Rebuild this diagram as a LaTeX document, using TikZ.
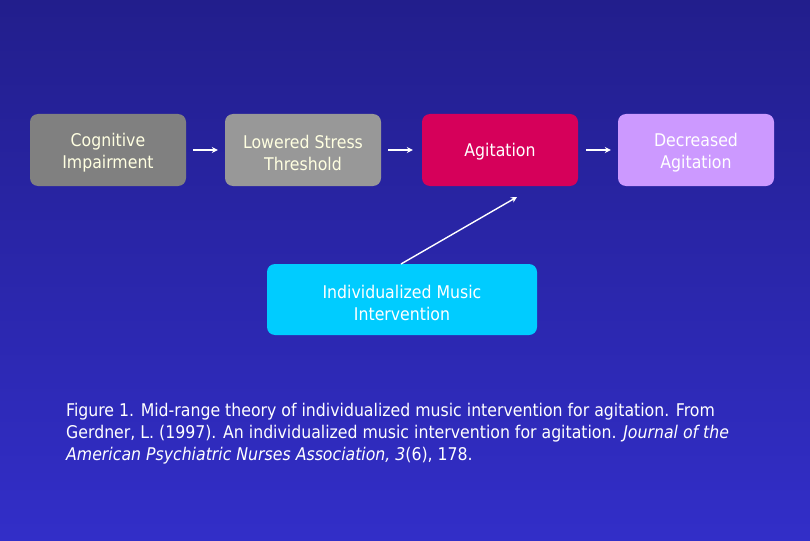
\documentclass[tikz,border=0pt]{standalone}
\usepackage{fontspec}
\setmainfont{DejaVu Sans Condensed}
\usetikzlibrary{arrows.meta}
\definecolor{bgtop}{RGB}{34,30,140}
\definecolor{bgbot}{RGB}{50,46,200}
\definecolor{gray1}{RGB}{128,128,128}
\definecolor{gray2}{RGB}{152,152,152}
\definecolor{agit}{RGB}{214,0,90}
\definecolor{lilac}{RGB}{204,153,255}
\definecolor{cyanbox}{RGB}{0,204,255}
\definecolor{txtlight}{RGB}{255,255,225}
\tikzset{
  box/.style={rounded corners=8pt, minimum width=156pt, minimum height=72pt,
    inner sep=0pt, align=center, text=txtlight,
    font=\fontsize{17.5}{22}\selectfont},
  boxtext/.style={inner sep=0pt, align=center, text=txtlight,
    font=\fontsize{17.5}{22}\selectfont},
  conn/.style={draw=white, line width=1.6pt, -{Stealth[length=6pt,width=6pt]}}
}
\begin{document}
\begin{tikzpicture}[x=1pt,y=-1pt]
\shade[top color=bgtop, bottom color=bgbot] (0,0) rectangle (810,540);
\useasboundingbox (0,0) rectangle (810,540);
\node[box, fill=gray1] (ci) at (108,150) {};
\node[box, fill=gray2] (ls) at (303,150) {};
\node[box, fill=agit] (ag) at (500,150) {};
\node[box, fill=lilac] (da) at (696,150) {};
\node[box, fill=cyanbox, minimum width=270pt, minimum height=71pt] (mi) at (402,299.5) {};
\node[boxtext] (cit) at ([yshift=-3pt]ci.center) {Cognitive\\Impairment};
\node[boxtext] (lst) at ([yshift=-3pt]ls.center) {Lowered Stress\\Threshold};
\node[boxtext, text=white] (agt) at ([yshift=-2pt]ag.center) {Agitation};
\node[boxtext, text=white] (dat) at ([yshift=-3pt]da.center) {Decreased\\Agitation};
\node[boxtext, text=white] (mit) at ([yshift=-3pt]mi.center) {Individualized Music\\Intervention};
\coordinate (mitop) at (401,264);
\coordinate (agtip) at (517,197);
\draw[conn] ([xshift=7pt]ci.east) -- ([xshift=-7pt]ls.west);
\draw[conn] ([xshift=7pt]ls.east) -- ([xshift=-9pt]ag.west);
\draw[conn] ([xshift=8pt]ag.east) -- ([xshift=-7pt]da.west);
\draw[conn, line width=1.4pt] (mitop) -- (agtip);
\node[anchor=north west, align=left, text=white, inner sep=0pt,
  font=\fontsize{17.5}{22}\selectfont] (cap) at (66,403)
  {Figure 1. Mid-range theory of individualized music intervention for agitation. From\\
   Gerdner, L. (1997). An individualized music intervention for agitation. \textit{Journal of the}\\
   \textit{American Psychiatric Nurses Association, 3}(6), 178.};
\end{tikzpicture}
\end{document}
